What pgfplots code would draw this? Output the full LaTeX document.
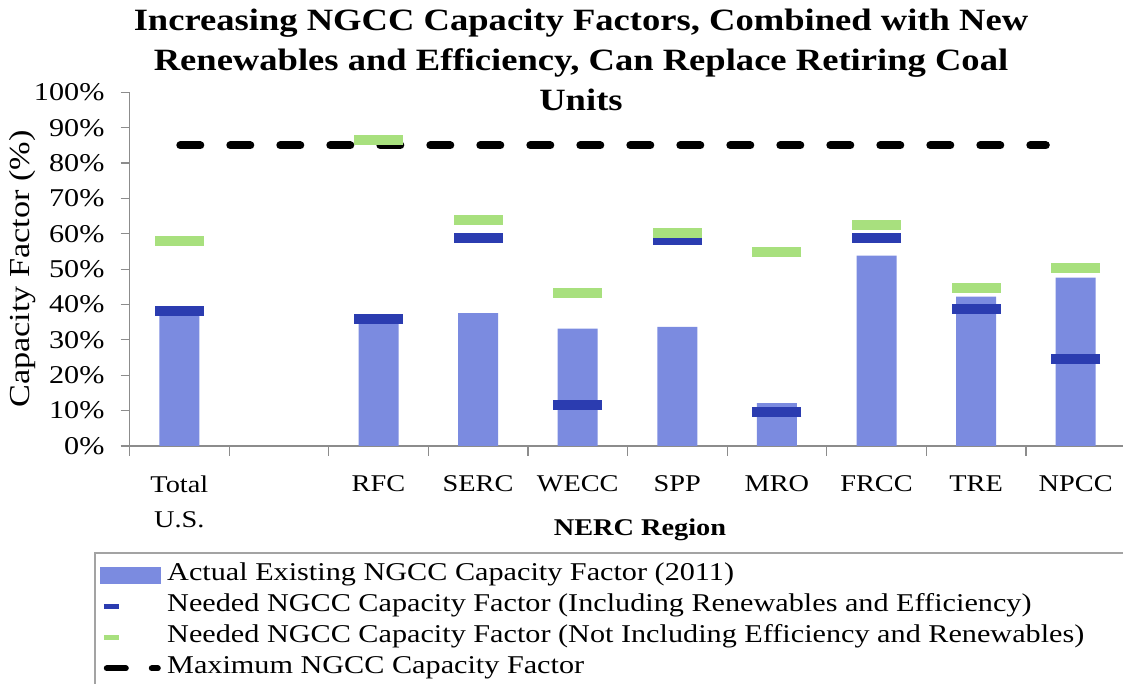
\documentclass[border=0pt]{standalone}
\usepackage{fontspec}
\setmainfont{Liberation Serif}[FakeStretch=1.18]
\usepackage{pgfplots}
\pgfplotsset{compat=1.18}
\definecolor{barc}{HTML}{7B8BE0}
\definecolor{blueM}{HTML}{2B3CB0}
\definecolor{greenM}{HTML}{A8E07E}
\definecolor{axgray}{HTML}{8C8C8C}
\begin{document}
\begin{tikzpicture}
\useasboundingbox (0,0) rectangle (561.5pt,342pt);
\begin{axis}[
  at={(64.75pt,119pt)}, anchor=south west,
  scale only axis, width=496.75pt, height=176.85pt,
  xmin=-0.5, xmax=9.475, ymin=0, ymax=100,
  axis x line=bottom, axis y line=left,
  axis line style={draw=axgray, line width=0.7pt, -},
  ytick={0,10,...,100},
  yticklabel={\pgfmathprintnumber{\tick}\%},
  /pgf/number format/assume math mode=true,
  tick align=outside,
  major tick length=4.5pt, minor tick length=5pt,
  tick style={draw=axgray, line width=0.6pt},
  xtick={0,...,9},
  xticklabels={{Total\\U.S.},{},RFC,SERC,WECC,SPP,MRO,FRCC,TRE,NPCC},
  major x tick style={draw=none},
  minor xtick={-0.5,0.5,...,8.5},
  x tick label style={align=center, anchor=north, yshift=-7pt, font=\fontsize{12}{17.5}\selectfont},
  y tick label style={xshift=-4.5pt, font=\fontsize{12.8}{14}\selectfont},
  clip=false,
  legend style={at={(-0.0297,-0.3322)}, anchor=north west, draw=none, fill=none,
    inner sep=0pt, row sep=4pt, column sep=2pt,
    nodes={inner ysep=0pt, inner xsep=1pt, text height=8.5pt, text depth=3pt},
    font=\fontsize{12.8}{14}\selectfont},
  legend cell align=left,
]
\addlegendimage{legend image code/.code={\fill[barc] (0pt,-3.75pt) rectangle (30pt,3.75pt);}}
\addlegendentry{Actual Existing NGCC Capacity Factor (2011)}
\addlegendimage{legend image code/.code={\path[draw=none,fill=none] (0pt,0pt) rectangle (30pt,0.1pt); \draw[blueM, line width=2.5pt] (1.5pt,0pt) -- (9pt,0pt);}}
\addlegendentry{Needed NGCC Capacity Factor (Including Renewables and Efficiency)}
\addlegendimage{legend image code/.code={\path[draw=none,fill=none] (0pt,0pt) rectangle (30pt,0.1pt); \draw[greenM, line width=2.5pt] (1.5pt,0pt) -- (9pt,0pt);}}
\addlegendentry{Needed NGCC Capacity Factor (Not Including Efficiency and Renewables)}
\addlegendimage{legend image code/.code={\path[draw=none,fill=none] (0pt,0pt) rectangle (30pt,0.1pt); \draw[black, line width=3pt, line cap=round] (3pt,0pt) -- (12.5pt,0pt); \draw[black, line width=3pt, line cap=round] (25.5pt,0pt) -- (28.5pt,0pt);}}
\addlegendentry{Maximum NGCC Capacity Factor}

\addplot[forget plot, ybar, bar width=20pt, fill=barc, draw=none] coordinates {
 (0,37.5) (2,35.0) (3,37.6) (4,33.2) (5,33.7) (6,12.1) (7,53.8) (8,42.2) (9,47.6)};
\addplot[forget plot, black, line width=4pt, line cap=round, dash pattern=on 10pt off 15pt] coordinates {
 (0.01,85) (8.7,85)};
\addplot[forget plot, only marks, mark=-, mark size=12.25pt, mark options={draw=blueM, line width=5pt}] coordinates {
 (0,38.2) (2,35.8) (3,58.8) (4,11.6) (5,58.2) (6,9.5) (7,58.8) (8,38.7) (9,24.7)};
\addplot[forget plot, only marks, mark=-, mark size=12.25pt, mark options={draw=greenM, line width=5pt}] coordinates {
 (0,57.9) (2,86.6) (3,63.8) (4,43.3) (5,60.3) (6,54.9) (7,62.4) (8,44.7) (9,50.4)};
\end{axis}
\node[font=\bfseries\fontsize{15.5}{20}\selectfont, align=center] at (290.5pt,312pt)
 {Increasing NGCC Capacity Factors, Combined with New\\Renewables and Efficiency, Can Replace Retiring Coal\\Units};
\node[rotate=90, font=\fontsize{14.5}{16}\selectfont] at (11.5pt,207.5pt) {Capacity Factor (\%)};
\node[font=\bfseries\fontsize{12}{14}\selectfont] at (320pt,77pt) {NERC Region};
\draw[axgray!80, line width=0.7pt] (47.5pt,65.5pt) rectangle (575pt,-5pt);
\end{tikzpicture}
\end{document}
